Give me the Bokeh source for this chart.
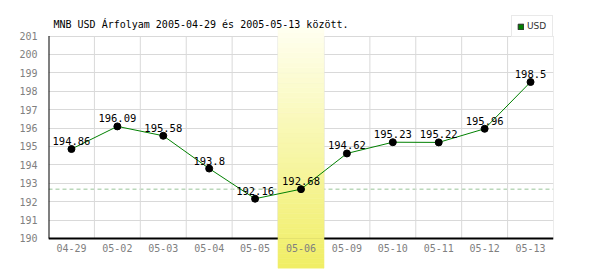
from bokeh.plotting import figure
from bokeh.models import Range1d, Span, Legend, LegendItem, Label
from bokeh.core.properties import value
from bokeh.embed import file_html
from bokeh.resources import INLINE

# ---- data ----
dates = ["04-29", "05-02", "05-03", "05-04", "05-05", "05-06",
         "05-09", "05-10", "05-11", "05-12", "05-13"]
rates = [194.86, 196.09, 195.58, 193.8, 192.16, 192.68,
         194.62, 195.23, 195.22, 195.96, 198.5]
rate_labels = ["194.86", "196.09", "195.58", "193.8", "192.16", "192.68",
               "194.62", "195.23", "195.22", "195.96", "198.5"]
y_ticks = [190, 191, 192, 193, 194, 195, 196, 197, 198, 199, 200, 201]
highlight_date = "05-06"
series_name = "USD"
title_text = "MNB USD Árfolyam 2005-04-29 és 2005-05-13 között."

# ---- derived ----
n = len(dates)
xs = [i + 0.5 for i in range(n)]
hi = dates.index(highlight_date)
ref_value = rates[hi]
y_min, y_max = y_ticks[0], y_ticks[-1]
px_per_unit = 18.4
y_lo = y_min - 30 / px_per_unit
y_hi = y_max + 35.5 / px_per_unit
band_top = y_max + 8.5 / px_per_unit

MONO = "DejaVu Sans Mono"
GRID = "#d9d9d9"

p = figure(width=600, height=270, output_backend="svg", toolbar_location=None,
           x_range=Range1d(0, n), y_range=Range1d(y_lo, y_hi),
           x_axis_location=None,
           min_border_left=48, min_border_right=47,
           min_border_top=0, min_border_bottom=2)
p.outline_line_color = None
p.background_fill_color = "white"
p.border_fill_color = "white"

# y axis
p.yaxis.ticker = y_ticks
p.yaxis.axis_line_color = None
p.yaxis.major_tick_line_color = None
p.yaxis.minor_tick_line_color = None
p.yaxis.major_label_standoff = 5
p.yaxis.major_label_text_font = MONO
p.yaxis.major_label_text_font_size = "10px"
p.yaxis.major_label_text_color = "#808080"
p.xgrid.visible = False
p.ygrid.grid_line_color = GRID
p.ygrid.grid_line_width = 1

# vertical grid lines at category boundaries
bounds = list(range(1, n + 1))
p.segment(x0=bounds, x1=bounds, y0=[y_min] * n, y1=[y_max] * n,
          line_color=GRID, line_width=1)

# reference (dashed) line at highlighted day's value
p.add_layout(Span(location=ref_value, dimension="width", line_color="#98c498",
                  line_dash="4 3", line_width=1, level="underlay"))

# black axis lines
p.segment(x0=[0], x1=[0], y0=[y_min], y1=[y_max], line_color="black", line_width=2)
p.segment(x0=[0], x1=[n], y0=[y_min], y1=[y_min], line_color="black", line_width=2)

# highlighted day: vertical gradient band
steps = 48
top_c = (255, 255, 240)
bot_c = (240, 238, 100)
h = (band_top - y_lo) / steps
bottoms = [y_lo + k * h for k in range(steps)]
tops = [b + h for b in bottoms]
cols = []
for k in range(steps):
    t = (k + 0.5) / steps
    c = tuple(int(round(bot_c[j] + (top_c[j] - bot_c[j]) * t)) for j in range(3))
    cols.append("#%02x%02x%02x" % c)
p.quad(left=hi, right=hi + 1, bottom=bottoms, top=tops,
       fill_color=cols, line_color=cols, line_width=0.6)

# series
p.line(xs, rates, line_color="#008000", line_width=1)
p.scatter(xs, rates, size=7, fill_color="black", line_color="black")
p.text(xs, rates, text=rate_labels, text_align="center", text_baseline="bottom",
       y_offset=-4, text_font=value(MONO), text_font_size="10.5px", text_color="black")

# x labels
p.text(xs, [y_min] * n, text=dates, text_align="center", text_baseline="top",
       y_offset=6, text_font=value(MONO), text_font_size="10px", text_color="#808080")

# title
p.add_layout(Label(x=5, y=244, x_units="screen", y_units="screen", text=title_text,
                   text_font=MONO, text_font_size="10px", text_color="black",
                   text_baseline="middle", text_align="left"))

# legend (proxy renderer with no drawable point)
nan = float("nan")
lg = p.quad(left=[nan], right=[nan], top=[nan], bottom=[nan],
            fill_color="#008000", line_color="#2a2a2a", line_width=1)
legend = Legend(items=[LegendItem(label=series_name, renderers=[lg], index=0)],
                location=(463, 231), orientation="vertical",
                border_line_color="#d4d4d4", background_fill_color="white",
                background_fill_alpha=1.0, padding=5, margin=0, spacing=0,
                glyph_width=7, glyph_height=7, label_standoff=3,
                label_height=10, label_text_font="DejaVu Sans",
                label_text_font_size="9px", label_text_color="#333333")
p.add_layout(legend)

open("out.html", "w").write(file_html(p, INLINE))
